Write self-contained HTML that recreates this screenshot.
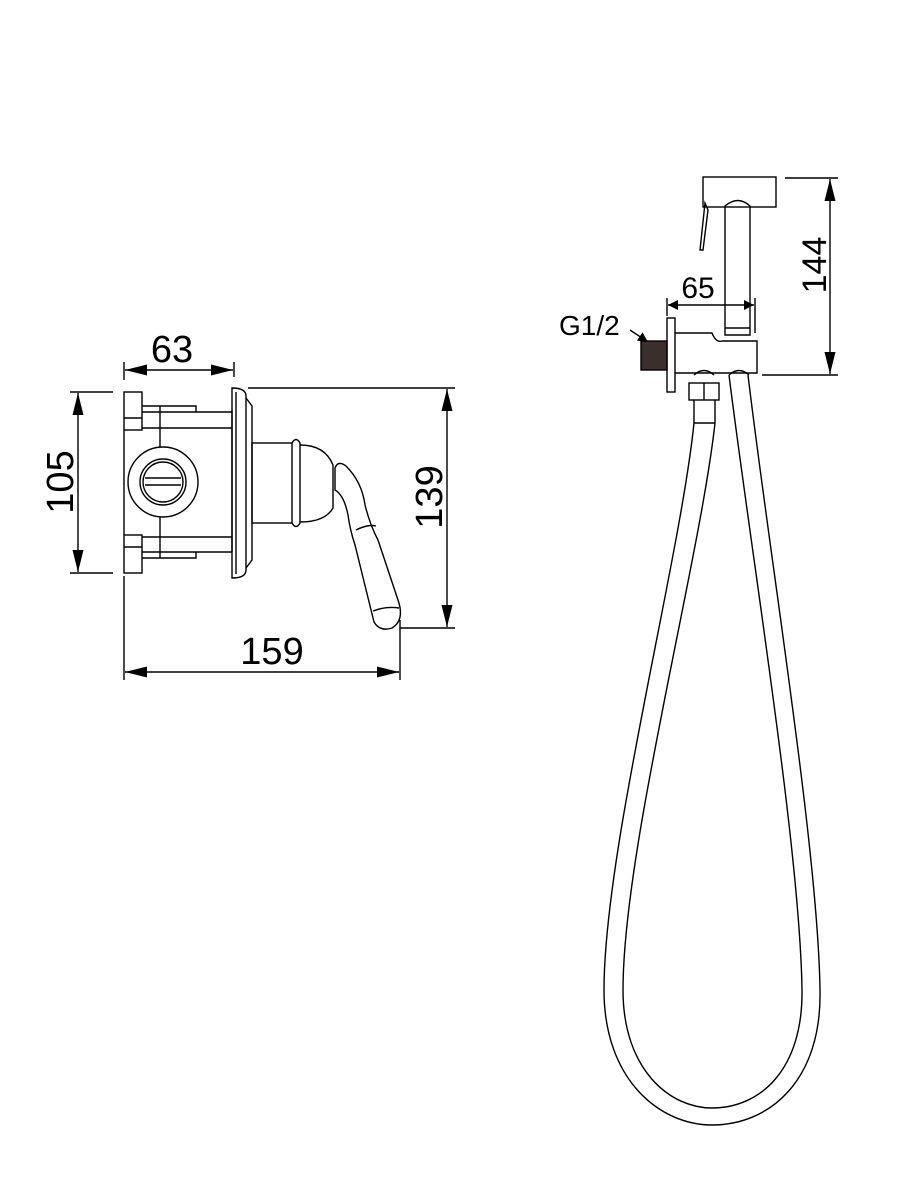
<!DOCTYPE html>
<html><head><meta charset="utf-8"><style>html,body{margin:0;padding:0;background:#fff}svg{display:block}</style></head>
<body>
<svg width="900" height="1200" viewBox="0 0 900 1200" xmlns="http://www.w3.org/2000/svg" font-family="Liberation Sans, sans-serif">
<defs>
<marker id="a" viewBox="0 0 10 10" refX="10" refY="5" markerWidth="10" markerHeight="10" markerUnits="userSpaceOnUse" orient="auto-start-reverse"><path d="M0,0 L10,5 L0,10 z" fill="#000"/></marker>
<marker id="b" viewBox="0 0 20 10" refX="20" refY="5" markerWidth="22" markerHeight="11" markerUnits="userSpaceOnUse" orient="auto-start-reverse"><path d="M0,0 L20,5 L0,10 z" fill="#000"/></marker>
</defs>
<g stroke="#000" stroke-width="1.4" fill="none">
<line x1="124" y1="362" x2="124" y2="380"/><line x1="234" y1="362" x2="234" y2="377"/>
<line x1="125" y1="370" x2="233" y2="370" marker-start="url(#b)" marker-end="url(#b)"/>
<line x1="70" y1="392" x2="113" y2="392"/><line x1="70" y1="573" x2="113" y2="573"/>
<line x1="78" y1="393" x2="78" y2="572" marker-start="url(#b)" marker-end="url(#b)"/>
<line x1="248" y1="388" x2="455" y2="388"/><line x1="400" y1="628" x2="455" y2="628"/>
<line x1="447" y1="389" x2="447" y2="627" marker-start="url(#b)" marker-end="url(#b)"/>
<line x1="124" y1="576" x2="124" y2="680"/><line x1="400" y1="620" x2="400" y2="680"/>
<line x1="125" y1="672" x2="399" y2="672" marker-start="url(#b)" marker-end="url(#b)"/>
<rect x="124" y="392" width="18" height="38"/><line x1="124" y1="418" x2="142" y2="418"/>
<rect x="124" y="535" width="18" height="38"/><line x1="124" y1="547" x2="142" y2="547"/>
<line x1="124" y1="430" x2="124" y2="535"/>
<path d="M142,406 H196 V412 M142,412 H232 M142,428 H232 M142,537 H232 M142,552 H232 M142,558 H196 V552"/>
<line x1="160" y1="406" x2="160" y2="558"/>
<line x1="232" y1="410" x2="232" y2="552"/>
<circle cx="163" cy="482" r="35" fill="#fff"/>
<circle cx="163" cy="482" r="23"/><circle cx="163" cy="482" r="20"/>
<line x1="145" y1="478" x2="181" y2="478"/><line x1="145" y1="485" x2="181" y2="485"/>
<path d="M232,388 Q246,388 246,396 V570 Q246,578 232,578 Z"/>
<path d="M246,398 L252,406 V560 L246,568"/>
<line x1="236" y1="392" x2="236" y2="574"/>
<rect x="252" y="443" width="40" height="80"/>
<path d="M292,443 Q296,436 300,443 V523 Q296,530 292,523"/>
<path d="M300,445 Q325,445 333,465 V508 Q325,522 300,522"/>
<path d="M335,468 Q338,460 346,466 Q362,482 365,505 Q370,525 378,540 L398,600 Q405,620 392,628 Q380,632 374,622 L355,545 Q350,530 348,515 Q344,495 335,490 Z"/>
<path d="M356,530 Q368,524 376,526"/><path d="M373,611 Q386,606 399,608"/>
<line x1="785" y1="178" x2="838" y2="178"/><line x1="762" y1="375" x2="838" y2="375"/>
<line x1="830" y1="179" x2="830" y2="374" marker-start="url(#b)" marker-end="url(#b)"/>
<line x1="667" y1="298" x2="667" y2="316"/><line x1="755" y1="298" x2="755" y2="333"/>
<line x1="668" y1="305" x2="754" y2="305" marker-start="url(#a)" marker-end="url(#a)"/>
<line x1="630" y1="330" x2="648" y2="342" marker-end="url(#a)"/>
<rect x="703" y="177" width="73" height="30"/>
<path d="M725,206 Q738,195 750,206 V335 H725 Z"/>
<line x1="725" y1="328" x2="750" y2="328"/>
<path d="M705,203 L708,210 L703,250 L700,250 Z"/>
<rect x="667" y="318" width="8" height="74"/>
<path d="M675,333 H712 Q716,343 722,341 H757 V373 H675"/>
<rect x="641" y="341" width="26" height="29" fill="#3a2f2c"/>
<path d="M694,375 Q704,366 714,375 M729,375 Q739,366 749,375"/>
<rect x="689" y="383" width="30" height="17"/><line x1="704" y1="383" x2="704" y2="400"/>
<path d="M694,400 V423 M715,400 V423"/><line x1="694" y1="423" x2="715" y2="423"/>
<path d="M694,423 C680,560 604,850 604,990 C604,1080 660,1125 712,1125 C770,1125 822,1080 820,990 C818,850 770,560 748,375"/>
<path d="M715,423 C700,560 623,850 623,990 C623,1070 670,1108 712,1108 C760,1108 803,1070 802,990 C800,850 752,560 729,375"/>
</g>
<g fill="#000" font-size="38">
<text x="172" y="362" text-anchor="middle">63</text>
<text x="272" y="664" text-anchor="middle">159</text>
<text transform="translate(73,482) rotate(-90)" text-anchor="middle">105</text>
<text transform="translate(442,497) rotate(-90)" text-anchor="middle">139</text>
<text transform="translate(826,265) rotate(-90)" text-anchor="middle" font-size="34">144</text>
<text x="698" y="298" text-anchor="middle" font-size="30">65</text>
<text x="559" y="335" font-size="28">G1/2</text>
</g>
</svg>
</body></html>
